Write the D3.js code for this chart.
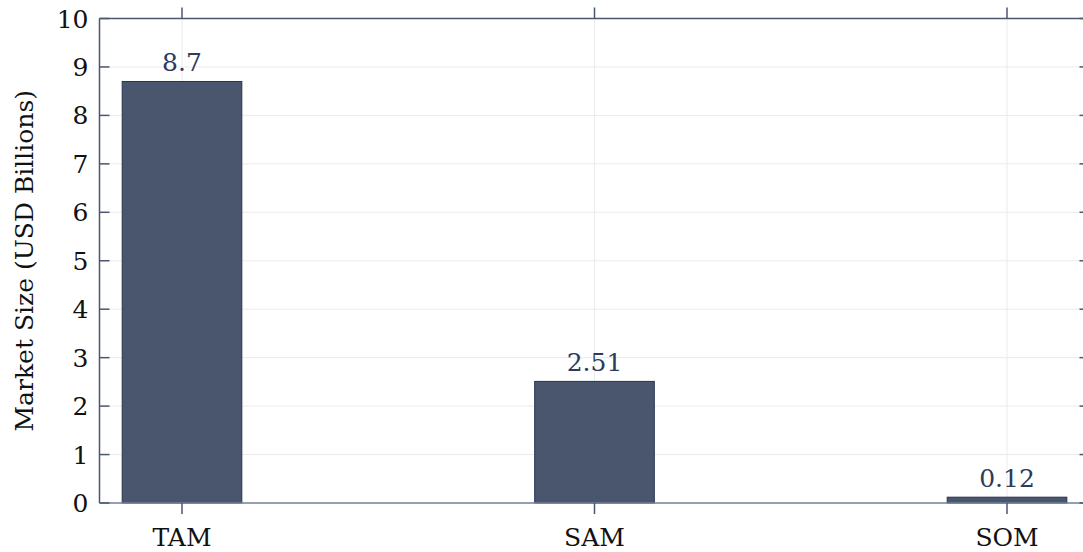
<!DOCTYPE html>
<html>
<head>
<meta charset="utf-8">
<script src="https://cdn.jsdelivr.net/npm/d3@7"></script>
<style>
  html, body { margin: 0; padding: 0; background: #fff; }
  svg { display: block; }
  text { font-family: "DejaVu Serif", serif; }
</style>
</head>
<body>
<svg id="chart" width="1083" height="552"></svg>
<script>
// Market sizing figures (USD billions)
const categories = ["TAM", "SAM", "SOM"];
const values = [8.7, 2.51, 0.12];
const valueLabels = ["8.7", "2.51", "0.12"];
const yTicks = [0, 1, 2, 3, 4, 5, 6, 7, 8, 9, 10];
const yTitle = "Market Size (USD Billions)";

const plotLeft = 99.5, plotTop = 18.5, plotBottom = 503, plotRight = 1089.5;

const axisColor = "#4b5671";
const gridColor = "#ebebeb";
const barFill = "#4a556e";
const barStroke = "#28344f";
const labelColor = "#2e3b5c";
const fontSize = 25;

const svg = d3.select("#chart");

const x = d3.scaleLinear().domain([-0.2, categories.length - 0.8]).range([plotLeft, plotRight]);
const y = d3.scaleLinear().domain([0, 10]).range([plotBottom, plotTop]);
const halfBar = 0.145;

// grid
svg.append("g").selectAll("line").data(yTicks).join("line")
  .attr("x1", plotLeft).attr("x2", plotRight)
  .attr("y1", d => y(d)).attr("y2", d => y(d))
  .attr("stroke", gridColor).attr("stroke-width", 1);
svg.append("g").selectAll("line").data(categories).join("line")
  .attr("x1", (d, i) => x(i)).attr("x2", (d, i) => x(i))
  .attr("y1", plotTop).attr("y2", plotBottom)
  .attr("stroke", gridColor).attr("stroke-width", 1);

// bars
svg.append("g").selectAll("rect").data(values).join("rect")
  .attr("x", (d, i) => x(i - halfBar))
  .attr("width", (d, i) => x(i + halfBar) - x(i - halfBar))
  .attr("y", d => y(d))
  .attr("height", d => y(0) - y(d))
  .attr("fill", barFill)
  .attr("stroke", barStroke)
  .attr("stroke-width", 1);

// value labels
svg.append("g").selectAll("text").data(values).join("text")
  .attr("x", (d, i) => x(i))
  .attr("y", d => y(d) - 10)
  .attr("text-anchor", "middle")
  .attr("font-size", fontSize)
  .attr("fill", labelColor)
  .text((d, i) => valueLabels[i]);

// frame
svg.append("line").attr("x1", plotLeft).attr("x2", plotRight).attr("y1", plotTop).attr("y2", plotTop)
  .attr("stroke", axisColor).attr("stroke-width", 1.5);
svg.append("line").attr("x1", plotLeft).attr("x2", plotLeft).attr("y1", plotTop).attr("y2", plotBottom)
  .attr("stroke", axisColor).attr("stroke-width", 1.5);
svg.append("line").attr("x1", plotRight).attr("x2", plotRight).attr("y1", plotTop).attr("y2", plotBottom)
  .attr("stroke", axisColor).attr("stroke-width", 1.5);
svg.append("line").attr("x1", plotLeft).attr("x2", plotRight).attr("y1", plotBottom).attr("y2", plotBottom)
  .attr("stroke", "#76809a").attr("stroke-width", 1.5);

// y ticks: inward on both sides
const yt = svg.append("g");
yt.append("g").selectAll("line").data(yTicks).join("line")
  .attr("x1", plotLeft).attr("x2", plotLeft + 10)
  .attr("y1", d => y(d)).attr("y2", d => y(d))
  .attr("stroke", axisColor).attr("stroke-width", 1.5);
yt.append("g").selectAll("line").data(yTicks).join("line")
  .attr("x1", plotRight - 10).attr("x2", plotRight)
  .attr("y1", d => y(d)).attr("y2", d => y(d))
  .attr("stroke", axisColor).attr("stroke-width", 1.5);
yt.append("g").selectAll("text").data(yTicks).join("text")
  .attr("x", plotLeft - 11)
  .attr("y", d => y(d))
  .attr("dy", "0.36em")
  .attr("text-anchor", "end")
  .attr("font-size", fontSize)
  .attr("fill", "#111")
  .text(d => d);

// x ticks: outward top and bottom
const xt = svg.append("g");
xt.append("g").selectAll("line").data(categories).join("line")
  .attr("x1", (d, i) => x(i)).attr("x2", (d, i) => x(i))
  .attr("y1", plotBottom).attr("y2", plotBottom + 11)
  .attr("stroke", axisColor).attr("stroke-width", 1.5);
xt.append("g").selectAll("line").data(categories).join("line")
  .attr("x1", (d, i) => x(i)).attr("x2", (d, i) => x(i))
  .attr("y1", plotTop - 11).attr("y2", plotTop)
  .attr("stroke", axisColor).attr("stroke-width", 1.5);
xt.append("g").selectAll("text").data(categories).join("text")
  .attr("x", (d, i) => x(i))
  .attr("y", 546)
  .attr("text-anchor", "middle")
  .attr("font-size", fontSize)
  .attr("fill", "#111")
  .text(d => d);

// y axis title
svg.append("text")
  .attr("transform", `translate(33, ${(plotTop + plotBottom) / 2}) rotate(-90)`)
  .attr("text-anchor", "middle")
  .attr("font-size", fontSize)
  .attr("fill", "#111")
  .text(yTitle);
</script>
</body>
</html>
